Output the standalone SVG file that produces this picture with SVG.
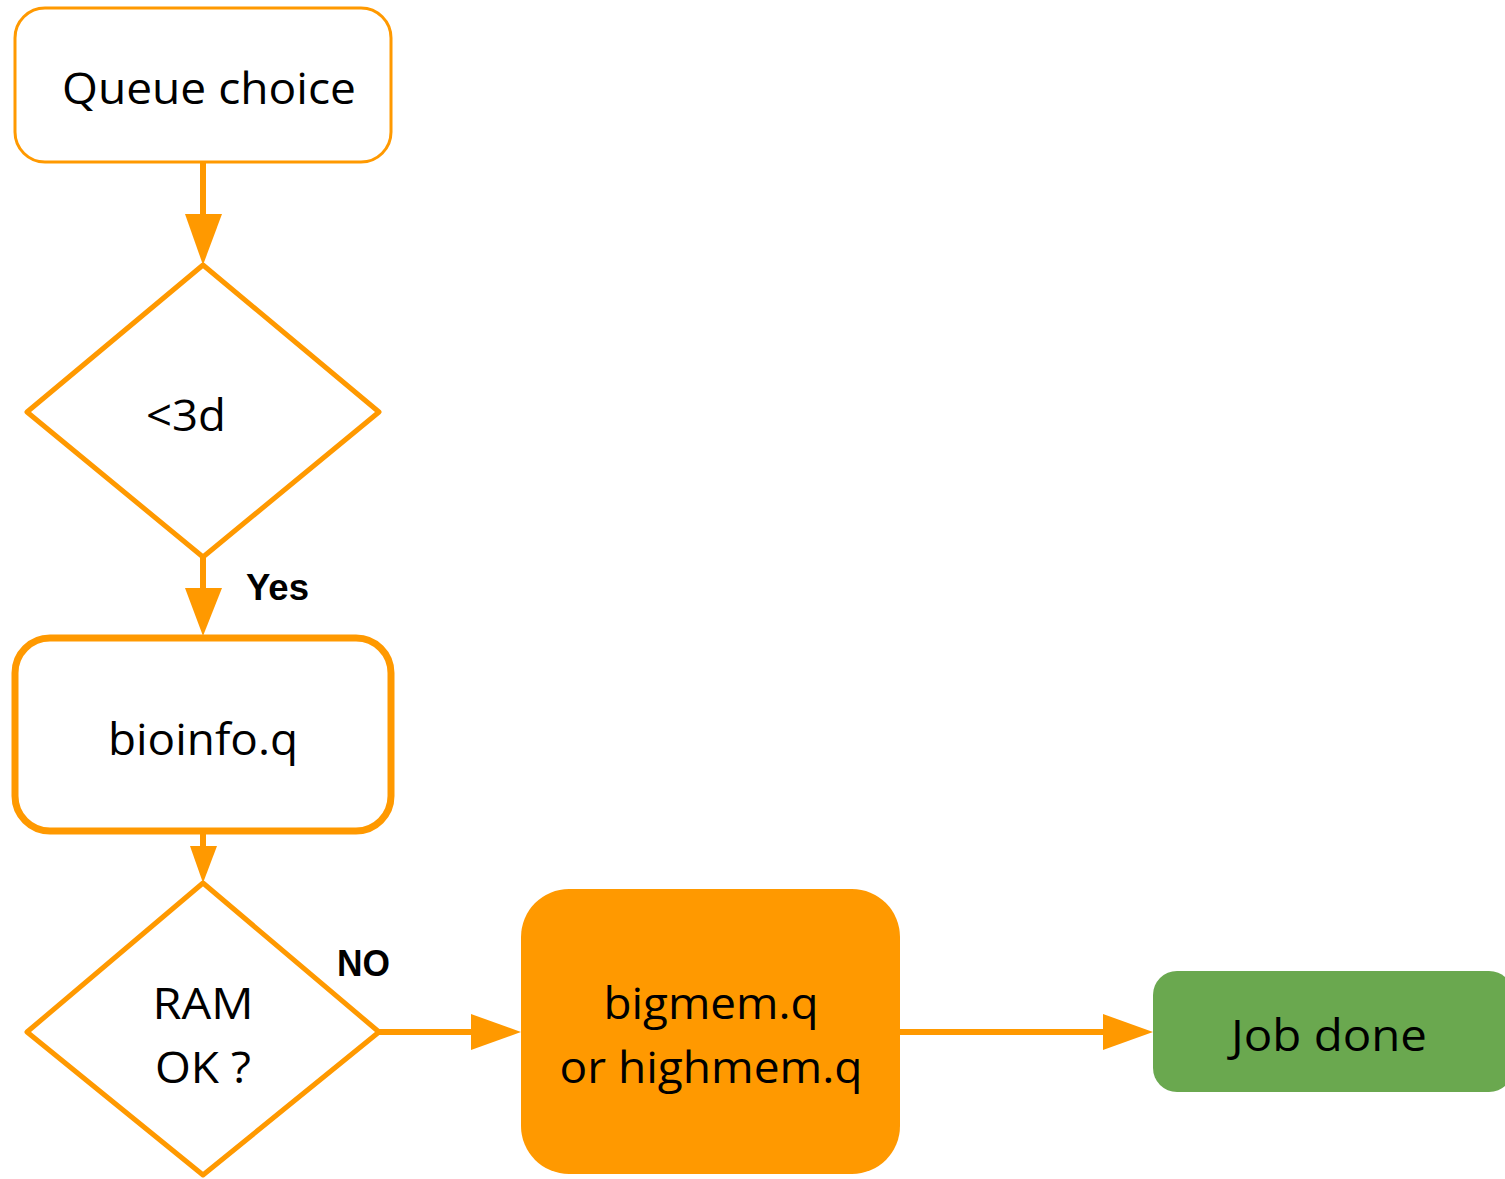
<svg xmlns="http://www.w3.org/2000/svg" width="1505" height="1179" viewBox="0 0 1505 1179">
<style>
.t{font-family:"Open Sans","Noto Sans","Liberation Sans",sans-serif;font-size:44px;fill:#000;text-anchor:middle}
.b{font-family:"Liberation Sans",Arial,sans-serif;font-weight:bold;font-size:36px;fill:#000}
.o{fill:#fff;stroke:#FF9900;stroke-linejoin:round}
.c{stroke:#FF9900;stroke-width:6;fill:none}
.h{fill:#FF9900}
</style>
<rect width="1505" height="1179" fill="#fff"/>
<g id="connectors">
<line class="c" x1="203" y1="162" x2="203" y2="218"/>
<polygon class="h" points="185,214 222,214 203,265"/>
<line class="c" x1="203" y1="557" x2="203" y2="592"/>
<polygon class="h" points="185,588 222,588 203,636"/>
<line class="c" x1="203" y1="831" x2="203" y2="850"/>
<polygon class="h" points="190,846 217,846 203,883"/>
<line class="c" x1="379" y1="1032" x2="475" y2="1032"/>
<polygon class="h" points="471,1014 471,1050 521,1032"/>
<line class="c" x1="900" y1="1032" x2="1107" y2="1032"/>
<polygon class="h" points="1103,1014 1103,1050 1153,1032"/>
<text class="b" x="246" y="600" textLength="63" lengthAdjust="spacingAndGlyphs">Yes</text>
<text class="b" x="337" y="976" textLength="53" lengthAdjust="spacingAndGlyphs">NO</text>
</g>
<g id="queue">
<rect class="o" x="15" y="8" width="376" height="154" rx="30" stroke-width="3"/>
<text class="t" x="209" y="104" textLength="294" lengthAdjust="spacingAndGlyphs">Queue choice</text>
</g>
<g id="d3">
<polygon class="o" points="203,265 379,412 203,557 27,412" stroke-width="5"/>
<text class="t" x="186" y="431" textLength="80" lengthAdjust="spacingAndGlyphs">&lt;3d</text>
</g>
<g id="bioinfo">
<rect class="o" x="15" y="638" width="376" height="193" rx="35" stroke-width="7"/>
<text class="t" x="203" y="755" textLength="190" lengthAdjust="spacingAndGlyphs">bioinfo.q</text>
</g>
<g id="ram">
<polygon class="o" points="203,883 379,1032 203,1175 27,1032" stroke-width="5"/>
<text class="t" x="203" y="1019" textLength="101" lengthAdjust="spacingAndGlyphs">RAM</text>
<text class="t" x="203" y="1083" textLength="96" lengthAdjust="spacingAndGlyphs">OK ?</text>
</g>
<g id="bigmem">
<rect x="521" y="889" width="379" height="285" rx="48" fill="#FF9900"/>
<text class="t" x="711" y="1019" textLength="215" lengthAdjust="spacingAndGlyphs">bigmem.q</text>
<text class="t" x="711" y="1083" textLength="303" lengthAdjust="spacingAndGlyphs">or highmem.q</text>
</g>
<g id="done">
<rect x="1153" y="971" width="360" height="121" rx="24" fill="#6AA84F"/>
<text class="t" x="1329" y="1051" textLength="196" lengthAdjust="spacingAndGlyphs">Job done</text>
</g>
</svg>
